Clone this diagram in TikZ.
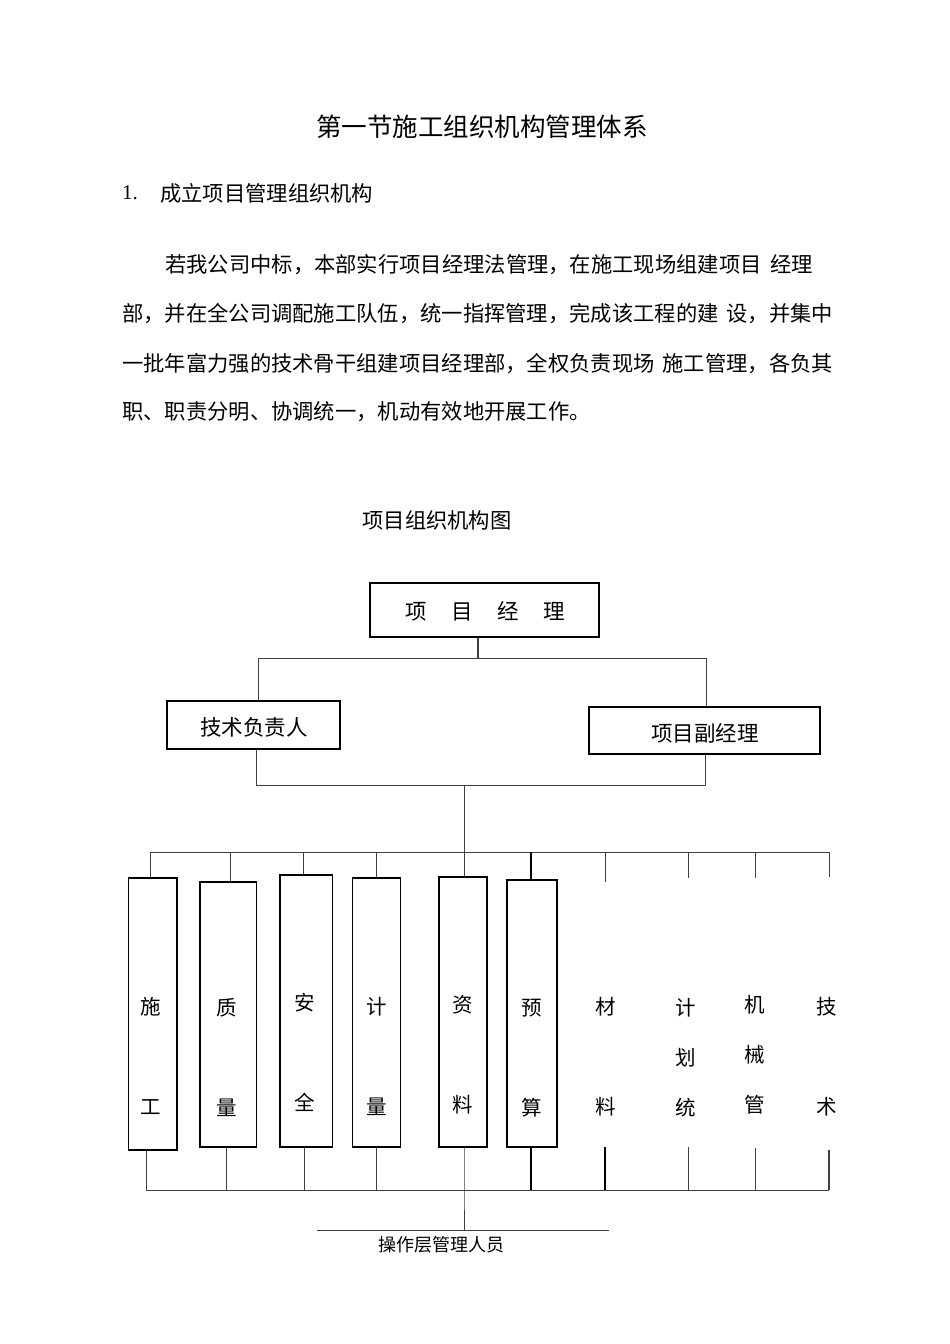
\documentclass[tikz,border=0pt]{standalone}
\usepackage{fontspec}
\newfontfamily\cjk{Noto Sans CJK SC}
\setmainfont{Liberation Serif}
\begin{document}
\begin{tikzpicture}[x=1pt,y=-1pt,
  txt/.style={inner sep=0pt,anchor=west,font=\cjk\fontsize{21.3}{22}\selectfont},
  ttl/.style={inner sep=0pt,font=\cjk\fontsize{25.5}{26}\selectfont},
  chart/.style={inner sep=0pt,font=\cjk\fontsize{20.5}{21}\selectfont},
  boxtxt/.style={inner sep=0pt,font=\cjk\fontsize{21.5}{22}\selectfont},
  small/.style={inner sep=0pt,font=\cjk\fontsize{18}{19}\selectfont},
  box/.style={draw=black,line width=1.3pt,inner sep=0pt},
  ln/.style={draw=black!75,line width=1pt},
  heavyln/.style={draw=black,line width=1.8pt}]
\useasboundingbox[fill=white] (0,0) rectangle (950,1344);

% header texts
\node[ttl] (title) at (482,127) {第一节施工组织机构管理体系};
\node[inner sep=0pt,anchor=west,font=\fontsize{21}{22}\selectfont] (num) at (122,193) {1.};
\node[txt] (sub) at (160,193) {成立项目管理组织机构};
\node[txt] (p1) at (165,265) {若我公司中标，本部实行项目经理法管理，在施工现场组建项目\hspace{9pt}经理};
\node[txt] (p2) at (122,314) {部，并在全公司调配施工队伍，统一指挥管理，完成该工程的建\hspace{8pt}设，并集中};
\node[txt] (p3) at (122,364) {一批年富力强的技术骨干组建项目经理部，全权负责现场\hspace{8pt}施工管理，各负其};
\node[txt] (p4) at (122,412) {职、职责分明、协调统一，机动有效地开展工作。};
\node[txt,anchor=center] (ctitle) at (437,520) {项目组织机构图};

% top boxes
\node[box,minimum width=229pt,minimum height=54pt] (pm) at (484.5,610) {};
\node[boxtxt] (pmt) at (485.5,611) {项\hspace{24.5pt}目\hspace{24.5pt}经\hspace{24.5pt}理};
\node[box,minimum width=173pt,minimum height=48pt] (tech) at (253.5,725) {};
\node[boxtxt] (techt) at (254,727) {技术负责人};
\node[box,minimum width=231pt,minimum height=47pt] (vice) at (704.5,730.5) {};
\node[boxtxt] (vicet) at (705,733) {项目副经理};

% column boxes
\node[box,minimum width=48.5pt,minimum height=272pt] (b1) at (152.75,1014) {};
\node[box,minimum width=56.6pt,minimum height=265pt] (b2) at (228.3,1014.5) {};
\node[box,minimum width=52.6pt,minimum height=272pt] (b3) at (306.3,1011) {};
\node[box,minimum width=47.8pt,minimum height=269pt] (b4) at (376.6,1012.5) {};
\node[box,minimum width=48pt,minimum height=270pt] (b5) at (463,1012) {};
\node[box,minimum width=50pt,minimum height=267pt] (b6) at (532,1013.5) {};

% column labels
\node[chart] (c1a) at (151,1007) {施};
\node[chart] (c1b) at (151,1107) {工};
\node[chart] (c2a) at (227,1008) {质};
\node[chart] (c2b) at (227,1108) {量};
\node[chart] (c3a) at (305,1003) {安};
\node[chart] (c3b) at (305,1102) {全};
\node[chart] (c4a) at (377,1007) {计};
\node[chart] (c4b) at (377,1107) {量};
\node[chart] (c5a) at (463,1005) {资};
\node[chart] (c5b) at (463,1105) {料};
\node[chart] (c6a) at (532,1008) {预};
\node[chart] (c6b) at (532,1108) {算};
\node[chart] (c7a) at (606,1007) {材};
\node[chart] (c7b) at (606,1107) {料};
\node[chart] (c8a) at (686,1008) {计};
\node[chart] (c8b) at (686,1058) {划};
\node[chart] (c8c) at (686,1108) {统};
\node[chart] (c9a) at (755,1005) {机};
\node[chart] (c9b) at (755,1055) {械};
\node[chart] (c9c) at (755,1105) {管};
\node[chart] (c10a) at (827,1007) {技};
\node[chart] (c10b) at (827,1107) {术};

% junction coordinates
\coordinate (j1) at (478,658);
\coordinate (h1l) at (258,658);
\coordinate (h1r) at (706,658);
\coordinate (h2l) at (256,785);
\coordinate (h2r) at (705,785);
\coordinate (h2m) at (464,785);
\coordinate (h3m) at (464,852);
\coordinate (h3l) at (150,852);
\coordinate (h3r) at (829,852);
\coordinate (d2) at (230,852);
\coordinate (d3) at (303,852);
\coordinate (d4) at (376,852);
\coordinate (d6) at (531,852);
\coordinate (d7) at (605,852);
\coordinate (d8) at (688,852);
\coordinate (d9) at (755,852);
\coordinate (e7) at (605,882);
\coordinate (e8) at (688,878);
\coordinate (e9) at (755,878);
\coordinate (e10) at (829,877);
\coordinate (h4l) at (146,1190);
\coordinate (h4r) at (829,1190);
\coordinate (g2) at (226,1190);
\coordinate (g3) at (304,1190);
\coordinate (g4) at (376,1190);
\coordinate (g5) at (464,1190);
\coordinate (g6) at (531,1190);
\coordinate (g7) at (605,1190);
\coordinate (g8) at (688,1190);
\coordinate (g9) at (755,1190);
\coordinate (f7) at (605,1147);
\coordinate (f8) at (688,1147);
\coordinate (f9) at (755,1148);
\coordinate (f10) at (829,1150);
\coordinate (h5m) at (464,1230);
\coordinate (h5l) at (317,1230);
\coordinate (h5r) at (609,1230);

% connectors upper part
\draw[ln,line width=1.3pt] (pm.south -| j1) -- (j1);
\draw[ln] (tech.north -| h1l) -- (h1l) -- (h1r) -- (vice.north -| h1r);
\draw[ln] (tech.south -| h2l) -- (h2l) -- (h2r) -- (vice.south -| h2r);
\draw[ln] (h2m) -- (h3m);
\draw[ln] (h3l) -- (h3r);
\draw[ln] (h3l) -- (b1.north -| h3l);
\draw[ln] (d2) -- (b2.north -| d2);
\draw[ln] (d3) -- (b3.north -| d3);
\draw[ln] (d4) -- (b4.north -| d4);
\draw[ln] (h3m) -- (b5.north -| h3m);
\draw[heavyln] (d6) -- (b6.north -| d6);
\draw[ln] (d7) -- (e7);
\draw[ln] (d8) -- (e8);
\draw[ln] (d9) -- (e9);
\draw[ln] (h3r) -- (e10);

% connectors lower part
\draw[ln] (b1.south -| h4l) -- (h4l) -- (h4r);
\draw[ln] (b2.south -| g2) -- (g2);
\draw[ln] (b3.south -| g3) -- (g3);
\draw[ln] (b4.south -| g4) -- (g4);
\draw[ln] (b5.south -| g5) -- (g5) -- (h5m);
\draw[heavyln] (b6.south -| g6) -- (g6);
\draw[heavyln] (f7) -- (g7);
\draw[ln] (f8) -- (g8);
\draw[ln] (f9) -- (g9);
\draw[ln,line width=1.3pt] (f10) -- (h4r);
\draw[ln] (h5l) -- (h5r);
\node[small] (ops) at (441,1245) {操作层管理人员};
\end{tikzpicture}
\end{document}
